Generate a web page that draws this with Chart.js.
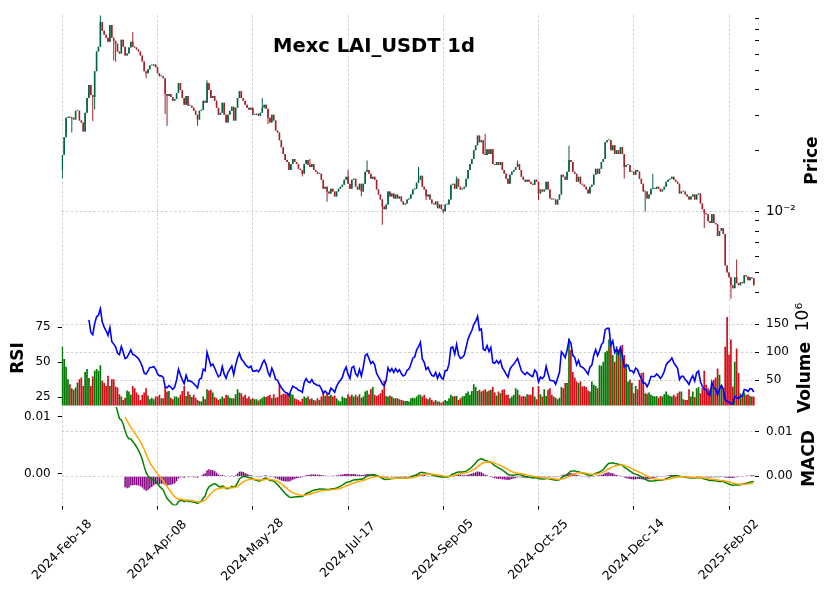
<!DOCTYPE html>
<html>
<head>
<meta charset="utf-8">
<script src="https://cdn.jsdelivr.net/npm/chart.js@4.4.1/dist/chart.umd.min.js"></script>
<style>
  html, body { margin: 0; padding: 0; background: #fff; }
  #wrap { position: relative; width: 831px; height: 600px; }
  #wrap canvas { position: absolute; left: 0; top: 0; }
</style>
</head>
<body>
<div id="wrap">
  <canvas id="priceChart" width="831" height="600"></canvas>
  <canvas id="volChart" width="831" height="600"></canvas>
  <canvas id="macdChart" width="831" height="600"></canvas>
</div>
<script>
// daily candles, first day 2024-02-18 (index 0)
const dateTickIndex = [0, 50, 100, 150, 200, 250, 300, 350];
const dateTickLabels = ['2024-Feb-18', '2024-Apr-08', '2024-May-28', '2024-Jul-17',
  '2024-Sep-05', '2024-Oct-25', '2024-Dec-14', '2025-Feb-02'];

const firstOpen = 0.0160;
const closes = [
  0.01903, 0.02330, 0.02917, 0.02950, 0.02917, 0.02917, 0.02852, 0.03155, 0.03155, 0.02820,
  0.02758, 0.02492, 0.03085, 0.03652, 0.04226, 0.03777, 0.03693, 0.04945, 0.06191, 0.06549,
  0.08672, 0.07838, 0.07494, 0.07245, 0.06927, 0.08385, 0.07245, 0.07005, 0.06773, 0.06191,
  0.06054, 0.07084, 0.06549, 0.05919, 0.06054, 0.06476, 0.06927, 0.06549, 0.06476, 0.06332,
  0.06191, 0.05919, 0.05533, 0.04945, 0.04836, 0.05058, 0.05290, 0.05290, 0.05350, 0.05173,
  0.04836, 0.04675, 0.04675, 0.04571, 0.03819, 0.03734, 0.03819, 0.03693, 0.03531, 0.03611,
  0.03863, 0.04322, 0.03995, 0.03652, 0.03376, 0.03734, 0.03338, 0.03338, 0.03264, 0.03155,
  0.03017, 0.02852, 0.03155, 0.03191, 0.03531, 0.03452, 0.04322, 0.03995, 0.03652, 0.03734,
  0.03531, 0.03264, 0.03017, 0.03085, 0.03452, 0.03017, 0.02758, 0.03017, 0.03155, 0.03300,
  0.02820, 0.03264, 0.03652, 0.03950, 0.03652, 0.03531, 0.03376, 0.03264, 0.03191, 0.03264,
  0.03017, 0.03017, 0.03051, 0.02983, 0.03085, 0.03264, 0.03376, 0.03227, 0.02917, 0.02758,
  0.03017, 0.02820, 0.02520, 0.02465, 0.02253, 0.02082, 0.01925, 0.01799, 0.01760, 0.01608,
  0.01720, 0.01820, 0.01760, 0.01720, 0.01627, 0.01608, 0.01538, 0.01720, 0.01799, 0.01701,
  0.01663, 0.01720, 0.01608, 0.01573, 0.01538, 0.01538, 0.01437, 0.01299, 0.01329, 0.01256,
  0.01228, 0.01299, 0.01256, 0.01188, 0.01256, 0.01299, 0.01329, 0.01359, 0.01437, 0.01487,
  0.01374, 0.01299, 0.01437, 0.01454, 0.01329, 0.01285, 0.01374, 0.01256, 0.01374, 0.01573,
  0.01608, 0.01538, 0.01454, 0.01487, 0.01437, 0.01285, 0.01214, 0.01148, 0.01061, 0.01026,
  0.01085, 0.01256, 0.01188, 0.01228, 0.01161, 0.01214, 0.01161, 0.01188, 0.01123, 0.01085,
  0.01098, 0.01148, 0.01161, 0.01214, 0.01285, 0.01299, 0.01390, 0.01437, 0.01503, 0.01329,
  0.01285, 0.01188, 0.01214, 0.01148, 0.01098, 0.01085, 0.01123, 0.01038, 0.01085, 0.01026,
  0.01003, 0.01085, 0.01085, 0.01148, 0.01359, 0.01374, 0.01299, 0.01454, 0.01329, 0.01285,
  0.01299, 0.01329, 0.01454, 0.01608, 0.01720, 0.01820, 0.02013, 0.02130, 0.02383, 0.02203,
  0.02253, 0.01925, 0.01903, 0.02036, 0.01925, 0.02036, 0.01720, 0.01701, 0.01760, 0.01701,
  0.01760, 0.01608, 0.01538, 0.01454, 0.01374, 0.01520, 0.01573, 0.01608, 0.01663, 0.01720,
  0.01608, 0.01487, 0.01437, 0.01405, 0.01437, 0.01405, 0.01374, 0.01359, 0.01437, 0.01405,
  0.01228, 0.01285, 0.01256, 0.01285, 0.01405, 0.01285, 0.01161, 0.01148, 0.01148, 0.01085,
  0.01148, 0.01214, 0.01520, 0.01487, 0.01437, 0.01573, 0.01799, 0.01760, 0.01573, 0.01538,
  0.01405, 0.01487, 0.01374, 0.01359, 0.01329, 0.01285, 0.01228, 0.01329, 0.01359, 0.01520,
  0.01627, 0.01538, 0.01627, 0.01760, 0.01820, 0.02203, 0.02253, 0.02253, 0.02013, 0.02130,
  0.01925, 0.02013, 0.01925, 0.02082, 0.01925, 0.01663, 0.01701, 0.01701, 0.01573, 0.01573,
  0.01520, 0.01608, 0.01573, 0.01454, 0.01374, 0.01256, 0.01256, 0.01161, 0.01214, 0.01299,
  0.01299, 0.01299, 0.01329, 0.01299, 0.01256, 0.01285, 0.01329, 0.01405, 0.01437, 0.01454,
  0.01487, 0.01437, 0.01405, 0.01374, 0.01228, 0.01256, 0.01256, 0.01214, 0.01188, 0.01148,
  0.01188, 0.01214, 0.01148, 0.01214, 0.01228, 0.01098, 0.01026, 0.00981, 0.00970, 0.00897,
  0.00877, 0.00970, 0.00877, 0.00867, 0.00758, 0.00802, 0.00829, 0.00775, 0.00541, 0.00500,
  0.00473, 0.00432, 0.00418, 0.00473, 0.00442, 0.00432, 0.00447, 0.00442, 0.00484, 0.00478,
  0.00457, 0.00473, 0.00468, 0.00432
];

// longer wicks that stick out of the bodies: [index, high, low]
const wickExtremes = [
  [0, null, 0.0146], [5, null, 0.0246], [16, null, 0.0281], [17, null, 0.0320],
  [20, 0.0935, null], [27, null, 0.0560], [28, null, 0.0551], [37, 0.0773, null],
  [44, null, 0.0457], [54, null, 0.0304], [55, null, 0.0266], [71, null, 0.0266],
  [76, 0.0447, null], [105, 0.0365, null], [108, null, 0.0271], [126, null, 0.0149],
  [130, 0.0182, null], [139, null, 0.0112], [150, 0.0161, null], [157, null, 0.0119],
  [160, 0.0179, null], [168, null, 0.0086], [187, 0.0166, null], [191, null, 0.0114],
  [200, null, 0.0098], [207, 0.0149, null], [222, 0.0242, null], [239, 0.0179, null],
  [250, null, 0.0114], [266, 0.0212, null], [295, null, 0.0146], [306, null, 0.0100],
  [310, 0.0154, null], [337, null, 0.0083], [351, null, 0.0037], [354, 0.0058, null]
];

// volume in millions
const volumeMillions = [
  110, 88, 74, 52, 43, 36, 33, 37, 46, 52,
  55, 40, 65, 70, 54, 40, 57, 67, 70, 67,
  77, 49, 45, 40, 58, 40, 52, 52, 39, 37,
  25, 21, 15, 19, 32, 30, 24, 40, 36, 28,
  24, 15, 24, 28, 36, 23, 16, 19, 16, 21,
  21, 24, 18, 18, 38, 30, 31, 19, 16, 21,
  21, 19, 24, 31, 40, 22, 30, 24, 20, 24,
  19, 15, 13, 12, 21, 16, 34, 32, 33, 28,
  20, 18, 15, 17, 21, 18, 24, 23, 19, 18,
  18, 25, 34, 28, 27, 21, 24, 18, 21, 16,
  18, 16, 16, 14, 16, 19, 21, 20, 22, 24,
  18, 25, 19, 20, 43, 24, 26, 26, 25, 27,
  26, 24, 18, 16, 15, 12, 17, 21, 19, 21,
  16, 18, 15, 14, 18, 15, 21, 30, 22, 27,
  22, 24, 21, 23, 18, 14, 12, 21, 19, 18,
  25, 21, 24, 21, 24, 21, 25, 19, 21, 30,
  32, 25, 34, 38, 24, 22, 24, 27, 33, 49,
  22, 21, 23, 21, 18, 18, 18, 16, 15, 14,
  13, 13, 12, 18, 19, 18, 21, 24, 24, 21,
  24, 18, 16, 19, 15, 12, 15, 12, 12, 10,
  12, 15, 13, 18, 24, 21, 22, 22, 15, 18,
  21, 22, 27, 30, 24, 31, 43, 38, 31, 33,
  30, 32, 34, 30, 32, 33, 38, 28, 23, 30,
  27, 33, 34, 24, 24, 18, 21, 24, 36, 33,
  24, 21, 22, 21, 25, 24, 24, 38, 21, 16,
  40, 25, 21, 34, 22, 33, 36, 24, 21, 19,
  16, 19, 38, 36, 45, 45, 125, 104, 65, 55,
  48, 45, 48, 39, 40, 38, 32, 30, 48, 42,
  40, 36, 77, 76, 83, 100, 103, 123, 113, 95,
  83, 111, 105, 110, 113, 95, 80, 48, 51, 45,
  27, 40, 34, 51, 63, 64, 27, 26, 28, 24,
  22, 21, 22, 19, 22, 21, 25, 30, 24, 22,
  21, 24, 21, 27, 30, 30, 16, 15, 15, 34,
  21, 30, 20, 36, 38, 27, 36, 67, 42, 36,
  33, 38, 51, 55, 71, 60, 42, 36, 110, 163,
  96, 123, 39, 83, 107, 63, 27, 24, 28, 24,
  25, 22, 21, 21
];

const priceTicks = [0.004, 0.005, 0.006, 0.007, 0.008, 0.009, 0.01,
  0.02, 0.03, 0.04, 0.05, 0.06, 0.07, 0.08, 0.09];
const rsiTicks = [25, 50, 75];
const volumeTicks = [50, 100, 150];
const macdTicks = [0, 0.01];

// ---- derived series ----
const idx = closes.map((_, i) => i);
const opens = closes.map((c, i) => (i === 0 ? firstOpen : closes[i - 1]));
const highs = closes.map((c, i) => Math.max(opens[i], c));
const lows = closes.map((c, i) => Math.min(opens[i], c));
wickExtremes.forEach(([i, hi, lo]) => {
  if (hi !== null) highs[i] = Math.max(highs[i], hi);
  if (lo !== null) lows[i] = Math.min(lows[i], lo);
});
const isUp = closes.map((c, i) => c >= opens[i]);

// Wilder RSI
function rsi(values, period) {
  const out = values.map(() => null);
  let avgGain = 0, avgLoss = 0;
  for (let i = 1; i < values.length; i++) {
    const d = values[i] - values[i - 1];
    const g = d > 0 ? d : 0;
    const l = d < 0 ? -d : 0;
    if (i <= period) {
      avgGain += g / period;
      avgLoss += l / period;
    } else {
      avgGain = (avgGain * (period - 1) + g) / period;
      avgLoss = (avgLoss * (period - 1) + l) / period;
    }
    if (i >= period) out[i] = avgLoss === 0 ? 100 : 100 - 100 / (1 + avgGain / avgLoss);
  }
  return out;
}

function ema(values, span) {
  const k = 2 / (span + 1);
  const out = [];
  values.forEach((v, i) => out.push(i === 0 ? v : v * k + out[i - 1] * (1 - k)));
  return out;
}

const rsiValues = rsi(closes, 14);
const ema12 = ema(closes, 12);
const ema26 = ema(closes, 26);
const macdValues = closes.map((c, i) => ema12[i] - ema26[i]);
const signalValues = ema(macdValues, 9);

// ---- look ----
Chart.defaults.font.family = '"DejaVu Sans", sans-serif';
Chart.defaults.font.size = 12;
Chart.defaults.color = '#000';

const upCandle = '#006340';
const downCandle = '#a02128';
const upVolume = '#007a00';
const downVolume = '#d50d18';
const gridColor = '#c4c4c4';
const gridDash = [2.5, 2];
const xMin = -0.3;
const xMax = 363.64;
const leftAxisWidth = 61.7;   // plot area starts at x = 61.7
const rightAxisWidth = 70;
const rightPad = 6;            // plot area ends at x = 755

const panelText = {
  id: 'panelText',
  afterDraw(chart, args, opts) {
    const ctx = chart.ctx;
    (opts.items || []).forEach(t => {
      ctx.save();
      ctx.translate(t.x, t.y);
      ctx.rotate(t.rot || 0);
      ctx.font = t.font;
      ctx.fillStyle = '#000';
      ctx.textAlign = 'center';
      ctx.textBaseline = t.baseline || 'middle';
      ctx.fillText(t.text, 0, 0);
      ctx.restore();
    });
  }
};

const dateLabels = {
  id: 'dateLabels',
  afterDraw(chart) {
    const ctx = chart.ctx;
    const x = chart.scales.x;
    ctx.save();
    ctx.font = '12.5px "DejaVu Sans"';
    ctx.fillStyle = '#000';
    ctx.textAlign = 'center';
    ctx.textBaseline = 'middle';
    dateTickIndex.forEach((v, k) => {
      ctx.save();
      ctx.translate(x.getPixelForValue(v), 550);
      ctx.rotate(-Math.PI / 4);
      ctx.fillText(dateTickLabels[k], 0, 0);
      ctx.restore();
    });
    ctx.restore();
  }
};

function xScale(drawTicks) {
  return {
    type: 'linear',
    min: xMin,
    max: xMax,
    offset: false,
    afterBuildTicks: s => { s.ticks = dateTickIndex.map(v => ({ value: v })); },
    afterFit: s => { s.height = 0; },
    ticks: { display: false },
    grid: { color: gridColor, lineWidth: 0.8, drawTicks: drawTicks, tickLength: 4,
      tickColor: '#000', tickWidth: 1, offset: false },
    border: { display: false, dash: gridDash }
  };
}

function yScale(position, min, max, tickValues, label, withGrid, type) {
  const width = position === 'left' ? leftAxisWidth : rightAxisWidth;
  return {
    type: type || 'linear',
    position: position,
    min: min,
    max: max,
    afterBuildTicks: s => { s.ticks = tickValues.map(v => ({ value: v })); },
    afterFit: s => { s.width = width; },
    ticks: { autoSkip: false, padding: 7, callback: label },
    grid: {
      drawOnChartArea: withGrid,
      color: gridColor,
      lineWidth: 0.8,
      drawTicks: true,
      tickLength: 4,
      tickColor: '#000',
      tickWidth: 1
    },
    border: { display: false, dash: gridDash }
  };
}

const baseOptions = {
  responsive: false,
  maintainAspectRatio: false,
  animation: false,
  events: []
};

// ---- price panel ----
const priceScale = yScale('right', 0.00353, 0.0938, priceTicks,
  v => (Math.abs(v - 0.01) < 1e-9 ? '10\u207B\u00B2' : ''), true, 'logarithmic');
priceScale.grid.color = ctx => (ctx.tick && Math.abs(ctx.tick.value - 0.01) < 1e-9 ? gridColor : 'rgba(0,0,0,0)');
priceScale.ticks.font = { size: 13.5 };

new Chart(document.getElementById('priceChart'), {
  type: 'bar',
  data: {
    datasets: [
      {
        data: idx.map(i => ({ x: i, y: [opens[i], closes[i]] })),
        backgroundColor: idx.map(i => (isUp[i] ? upCandle : downCandle)),
        barThickness: 1.6,
        minBarLength: 1,
        inflateAmount: 0,
        grouped: false,
        order: 1
      },
      {
        data: idx.map(i => ({ x: i, y: [lows[i], highs[i]] })),
        backgroundColor: idx.map(i => (isUp[i] ? upCandle : downCandle)),
        barThickness: 1,
        inflateAmount: 0,
        grouped: false,
        order: 2
      }
    ]
  },
  options: {
    ...baseOptions,
    layout: { padding: { left: leftAxisWidth, right: rightPad, top: 11, bottom: 297 } },
    scales: { x: xScale(false), y: priceScale },
    plugins: {
      legend: { display: false },
      tooltip: { enabled: false },
      panelText: {
        items: [
          { text: 'Mexc LAI_USDT 1d', x: 374, y: 52, font: 'bold 19.5px "DejaVu Sans"', baseline: 'alphabetic' },
          { text: 'Price', x: 812.5, y: 160.5, rot: -Math.PI / 2, font: 'bold 17px "DejaVu Sans"' }
        ]
      }
    }
  },
  plugins: [panelText]
});

// ---- volume + RSI panel ----
new Chart(document.getElementById('volChart'), {
  type: 'bar',
  data: {
    datasets: [
      {
        type: 'line',
        data: idx.filter(i => rsiValues[i] !== null).map(i => ({ x: i, y: rsiValues[i] })),
        yAxisID: 'yRsi',
        borderColor: '#0000ff',
        borderWidth: 1.6,
        pointRadius: 0,
        tension: 0,
        order: 0
      },
      {
        data: idx.map(i => ({ x: i, y: volumeMillions[i] })),
        yAxisID: 'yVol',
        backgroundColor: idx.map(i => (isUp[i] ? upVolume : downVolume)),
        barThickness: 1.7,
        inflateAmount: 0,
        grouped: false,
        order: 1
      }
    ]
  },
  options: {
    ...baseOptions,
    layout: { padding: { left: 0, right: rightPad, top: 306, bottom: 194.5 } },
    scales: {
      x: xScale(false),
      yVol: yScale('right', 5, 182.7, volumeTicks, v => String(v), true),
      yRsi: yScale('left', 19.1, 90.2, rsiTicks, v => String(v), false)
    },
    plugins: {
      legend: { display: false },
      tooltip: { enabled: false },
      panelText: {
        items: [
          { text: 'RSI', x: 18.3, y: 358, rot: -Math.PI / 2, font: 'bold 17px "DejaVu Sans"' },
          { text: 'Volume', x: 806, y: 377.5, rot: -Math.PI / 2, font: 'bold 17px "DejaVu Sans"' },
          { text: '10\u2076', x: 804, y: 317, rot: -Math.PI / 2, font: '17px "DejaVu Sans"' }
        ]
      }
    }
  },
  plugins: [panelText]
});

// ---- MACD panel ----
const macdStart = 25;
const signalStart = 33;

new Chart(document.getElementById('macdChart'), {
  type: 'bar',
  data: {
    datasets: [
      {
        type: 'line',
        data: idx.filter(i => i >= signalStart).map(i => ({ x: i, y: signalValues[i] })),
        yAxisID: 'yMacd',
        borderColor: '#ffa500',
        borderWidth: 1.5,
        pointRadius: 0,
        tension: 0,
        order: 0
      },
      {
        type: 'line',
        data: idx.filter(i => i >= macdStart).map(i => ({ x: i, y: macdValues[i] })),
        yAxisID: 'yMacd',
        borderColor: '#008000',
        borderWidth: 1.5,
        pointRadius: 0,
        tension: 0,
        order: 1
      },
      {
        data: idx.filter(i => i >= signalStart).map(i => ({ x: i, y: macdValues[i] - signalValues[i] })),
        yAxisID: 'yHist',
        backgroundColor: '#800080',
        barThickness: 1.5,
        inflateAmount: 0,
        grouped: false,
        order: 2
      }
    ]
  },
  options: {
    ...baseOptions,
    layout: { padding: { left: 0, right: rightPad, top: 407, bottom: 94.5 } },
    scales: {
      x: xScale(true),
      yHist: yScale('right', -0.00655, 0.01558, macdTicks, v => v.toFixed(2), true),
      yMacd: yScale('left', -0.0056, 0.01171, macdTicks, v => v.toFixed(2), false)
    },
    plugins: {
      legend: { display: false },
      tooltip: { enabled: false },
      panelText: {
        items: [
          { text: 'MACD', x: 810, y: 458.5, rot: -Math.PI / 2, font: 'bold 17px "DejaVu Sans"' }
        ]
      }
    }
  },
  plugins: [panelText, dateLabels]
});
</script>
</body>
</html>
